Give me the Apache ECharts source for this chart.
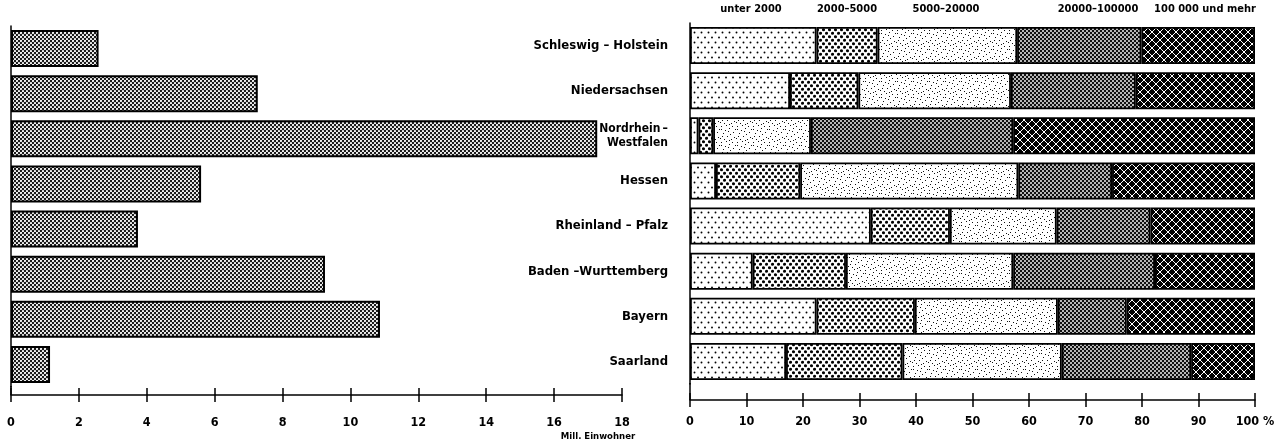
<!DOCTYPE html>
<html><head><meta charset="utf-8">
<script src="https://cdn.jsdelivr.net/npm/echarts@6/dist/echarts.min.js"></script>
<style>html,body{margin:0;padding:0;background:#fff}#c{width:1281px;height:444px}</style>
</head><body><div id="c"></div>
<script>
// ---- data ----
const states = ['Schleswig – Holstein', 'Niedersachsen', 'Nordrhein\u2009–\nWestfalen', 'Hessen',
  'Rheinland – Pfalz', 'Baden –Wurttemberg', 'Bayern', 'Saarland'];
const population = [2.58, 7.27, 17.27, 5.6, 3.74, 9.25, 10.87, 1.15]; // Mill. Einwohner
const sizeClasses = ['unter 2000', '2000–5000', '5000–20000', '20000–100000', '100000 und mehr'];
const headerLabels = ['unter 2000', '2000–5000', '5000–20000', '20000–100000', '100 000 und mehr'];
const shareUnder2000 = [22.4, 17.7, 1.5, 4.6, 32.0, 11.1, 22.4, 17.0];
const share2000to5000 = [10.8, 12.1, 2.6, 14.9, 14.0, 16.5, 17.4, 20.6];
const share5000to20000 = [24.7, 27.0, 17.3, 38.6, 18.9, 29.6, 25.3, 28.2];
const share20000to100000 = [22.0, 22.1, 35.8, 16.6, 16.6, 25.1, 12.2, 22.9];
const share100000plus = [20.1, 21.1, 42.8, 25.3, 18.5, 17.7, 22.7, 11.3];
const popTicks = [0, 2, 4, 6, 8, 10, 12, 14, 16, 18];
const pctTicks = [0, 10, 20, 30, 40, 50, 60, 70, 80, 90, 100];

// ---- patterns ----
function pat(w, h, draw) {
  const c = document.createElement('canvas'); c.width = w; c.height = h;
  const g = c.getContext('2d'); draw(g, w, h);
  return { image: c, repeat: 'repeat' };
}
function dot(g, x, y, r) { g.beginPath(); g.arc(x, y, r, 0, Math.PI * 2); g.fill(); }
const pSparse = pat(7, 10, (g, w, h) => { g.fillStyle = '#fff'; g.fillRect(0, 0, w, h); g.fillStyle = '#000'; dot(g, 1.5, 2.5, 0.95); dot(g, 5, 7.5, 0.95); });
const pDots = pat(6, 7, (g, w, h) => { g.fillStyle = '#fff'; g.fillRect(0, 0, w, h); g.fillStyle = '#000'; dot(g, 1.5, 1.75, 1.55); dot(g, 4.5, 5.25, 1.55); });
const stip = [[1,1],[5,2],[9,0],[3,5],[10,6],[7,8],[0,10],[4,11],[11,11],[8,3],[2,8],[13,4],[14,9],[6,13],[12,14],[1,14],[15,1],[9,12]];
const pStipple = pat(16, 16, (g, w, h) => { g.fillStyle = '#fff'; g.fillRect(0, 0, w, h); g.fillStyle = '#111'; stip.forEach(p => g.fillRect(p[0], p[1], 1, 1)); });
const pCheck = pat(4, 4, (g, w, h) => { g.fillStyle = '#111'; g.fillRect(0, 0, w, h); g.fillStyle = '#fff'; dot(g, 1, 1, 0.95); dot(g, 3, 3, 0.95); });
const pCross = pat(8, 8, (g, w, h) => { g.fillStyle = '#000'; g.fillRect(0, 0, w, h); g.strokeStyle = '#fff'; g.lineWidth = 1.0;
  g.beginPath(); g.moveTo(0, 0); g.lineTo(8, 8); g.moveTo(8, 0); g.lineTo(0, 8); g.stroke(); });
const pLeft = pat(4, 4, (g, w, h) => { g.fillStyle = '#1a1a1a'; g.fillRect(0, 0, w, h); g.fillStyle = '#fff'; dot(g, 1, 1, 1.1); dot(g, 3, 3, 1.1); });
const patterns = [pSparse, pDots, pStipple, pCheck, pCross];
const shares = [shareUnder2000, share2000to5000, share5000to20000, share20000to100000, share100000plus];

const FONT = "'DejaVu Sans Condensed', 'Liberation Sans Narrow', 'Roboto', sans-serif";
const chart = echarts.init(document.getElementById('c'), null, { renderer: 'canvas' });

const L = { left: 11, top: 26, width: 611, height: 361, axisY: 395 };
const R = { left: 690, top: 23, width: 565, height: 361, axisY: 400 };

function xAxes(gi, cfg, max, interval, fmt, margin) {
  const off = cfg.axisY - (cfg.top + cfg.height);
  return [
    { gridIndex: gi, type: 'value', position: 'bottom', min: 0, max: max, interval: interval, offset: off,
      axisLine: { show: true, lineStyle: { color: '#000', width: 1.5 } },
      axisTick: { show: true, length: 7, lineStyle: { color: '#000', width: 1.5 } },
      splitLine: { show: false },
      axisLabel: { color: '#000', fontFamily: FONT, fontWeight: 'bold', fontSize: 12.5, margin: margin, formatter: fmt } },
    { gridIndex: gi, type: 'value', position: 'bottom', min: 0, max: max, interval: interval, offset: off,
      axisLine: { show: false }, axisTick: { show: true, inside: true, length: 7, lineStyle: { color: '#000', width: 1.5 } },
      splitLine: { show: false }, axisLabel: { show: false } }
  ];
}

const yData = states.map((s, i) => i === 2 ? { value: s, textStyle: { fontSize: 12 } } : s);

const option = {
  backgroundColor: '#fff',
  animation: false,
  grid: [
    { left: L.left, top: L.top, width: L.width, height: L.height },
    { left: R.left, top: R.top, width: R.width, height: R.height }
  ],
  xAxis: [
    ...xAxes(0, L, 18, 2, v => String(v), 21),
    ...xAxes(1, R, 100, 10, v => v === 100 ? '100 %' : String(v), 15)
  ],
  yAxis: [
    { gridIndex: 0, type: 'category', data: states, inverse: true,
      axisLine: { show: true, lineStyle: { color: '#000', width: 1.5 } }, axisTick: { show: false }, axisLabel: { show: false } },
    { gridIndex: 1, type: 'category', data: yData, inverse: true,
      axisLine: { show: true, lineStyle: { color: '#000', width: 1.5 } }, axisTick: { show: false },
      axisLabel: { color: '#000', fontFamily: FONT, fontWeight: 'bold', fontSize: 13, margin: 22, lineHeight: 14, align: 'right' } }
  ],
  series: [
    { name: 'Mill. Einwohner', type: 'bar', xAxisIndex: 0, yAxisIndex: 0, data: population, barWidth: 37,
      itemStyle: { color: pLeft, borderColor: '#000', borderWidth: 2 } },
    ...sizeClasses.map((n, i) => ({
      name: n, type: 'bar', stack: 'share', xAxisIndex: 2, yAxisIndex: 1, data: shares[i], barWidth: 37,
      itemStyle: { color: patterns[i], borderColor: '#000', borderWidth: 1.8 }
    }))
  ],
  graphic: [
    { type: 'line', shape: { x1: L.left, y1: L.top + L.height - 1, x2: L.left, y2: L.axisY }, style: { stroke: '#000', lineWidth: 1.5 } },
    { type: 'line', shape: { x1: R.left, y1: R.top + R.height - 1, x2: R.left, y2: R.axisY }, style: { stroke: '#000', lineWidth: 1.5 } },
    { type: 'text', x: 598, y: 437, style: { text: 'Mill. Einwohner', font: "bold 9.5px " + FONT, fill: '#000', align: 'center', verticalAlign: 'middle', textAlign: 'center', textVerticalAlign: 'middle' } },
    ...headerLabels.map((t, i) => ({ type: 'text', x: [751, 847, 946, 1098, 1205][i], y: 9,
      style: { text: t, font: "bold 11px " + FONT, fill: '#000', align: 'center', verticalAlign: 'middle', textAlign: 'center', textVerticalAlign: 'middle' } }))
  ]
};
chart.setOption(option);
</script></body></html>
